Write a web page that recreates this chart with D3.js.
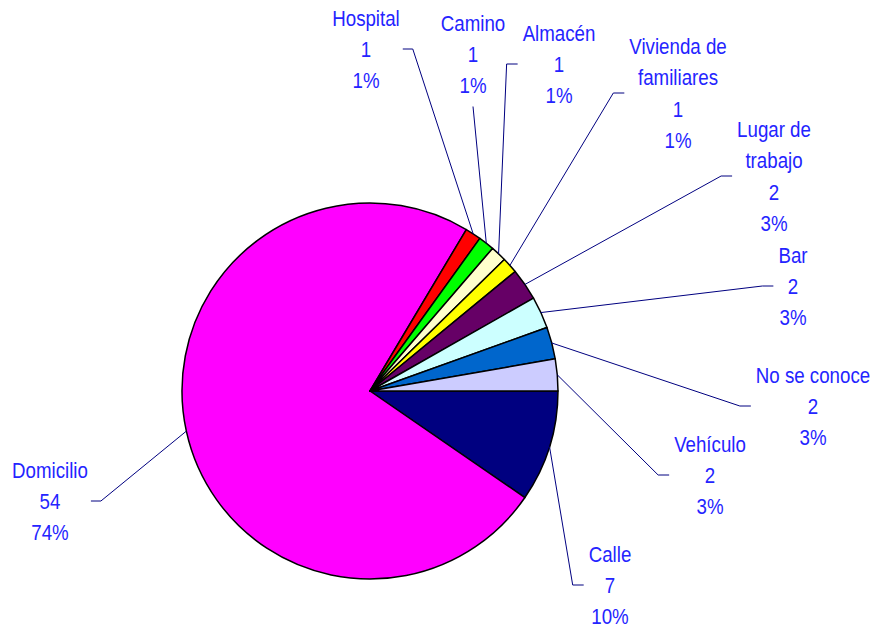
<!DOCTYPE html>
<html>
<head>
<meta charset="utf-8">
<script src="https://cdn.jsdelivr.net/npm/d3@7"></script>
<style>
  body { margin: 0; background: #fff; }
  svg { display: block; }
</style>
</head>
<body>
<div id="chart"></div>
<script>
// data
var categories = ["Calle", "Domicilio", "Hospital", "Camino", "Almacén", "Vivienda de\nfamiliares",
                  "Lugar de\ntrabajo", "Bar", "No se conoce", "Vehículo"];
var values = [7, 54, 1, 1, 1, 1, 2, 2, 2, 2];
var colors = ["#000080", "#ff00ff", "#ff0000", "#00ff00", "#ffffcc", "#ffff00",
              "#660066", "#ccffff", "#0066cc", "#ccccff"];

// label block centres, offset from the pie centre (hand placed, as in the original)
var labelOffsets = [[240, 194], [-320, 110], [-4, -342], [103, -337], [189, -327],
                    [308, -298], [404, -215], [423, -105], [443, 15], [340, 84]];

var width = 876, height = 627;
var cx = 370, cy = 391, radius = 188;
var lineH = 31.5, fontSize = 22, squeeze = 0.85;

var total = d3.sum(values);

var pie = d3.pie()
    .value(d => d.value)
    .sort(null)
    .startAngle(Math.PI / 2)
    .endAngle(Math.PI / 2 + 2 * Math.PI);

var arc = d3.arc().innerRadius(0).outerRadius(radius);
var outerArc = d3.arc().innerRadius(radius).outerRadius(radius);

var rows = categories.map((c, i) => ({ name: c, value: values[i], color: colors[i], off: labelOffsets[i] }));
var slices = pie(rows);

var svg = d3.select("#chart")
    .append("svg")
        .attr("width", width)
        .attr("height", height);

var g = svg.append("g")
    .attr("transform", `translate(${cx}, ${cy})`);

// slices
g.selectAll("path.slice")
    .data(slices)
    .enter()
    .append("path")
        .attr("class", "slice")
        .attr("d", arc)
        .attr("fill", d => d.data.color)
        .attr("stroke", "#000")
        .attr("stroke-width", 1.5)
        .attr("stroke-linejoin", "round");

// labels
var labels = g.selectAll("g.label")
    .data(slices)
    .enter()
    .append("g")
        .attr("class", "label");

labels.each(function(d) {
    var lines = d.data.name.split("\n");
    lines.push(String(d.data.value));
    lines.push(Math.round(d.data.value / total * 100) + "%");
    var n = lines.length;
    var lx = d.data.off[0], ly = d.data.off[1];
    var firstBase = ly - ((n - 1) * lineH - 16) / 2;

    var t = d3.select(this).append("text")
        .attr("transform", `translate(${lx}, ${firstBase}) scale(${squeeze}, 1)`)
        .attr("text-anchor", "middle")
        .style("font-family", "'Liberation Sans', Arial, sans-serif")
        .style("font-size", fontSize + "px")
        .style("fill", "#2424ff");

    t.selectAll("tspan")
        .data(lines)
        .enter()
        .append("tspan")
            .attr("x", 0)
            .attr("y", (s, i) => i * lineH)
            .text(s => s);

    d.box = { w: this.getBBox().width, lx: lx, ly: ly, bottom: firstBase + (n - 1) * lineH };
});

// leader lines
g.selectAll("polyline.leader")
    .data(slices)
    .enter()
    .insert("polyline", "g.label")
        .attr("class", "leader")
        .attr("fill", "none")
        .attr("stroke", "#000080")
        .attr("stroke-width", 1)
        .attr("points", function(d) {
            var p0 = outerArc.centroid(d);
            var b = d.box;
            var left = b.lx - b.w / 2, right = b.lx + b.w / 2;
            if (left > p0[0]) {
                return [p0, [left - 16, b.ly], [left - 5, b.ly]];
            } else if (right < p0[0]) {
                return [p0, [right + 13, b.ly], [right + 3, b.ly]];
            }
            return [p0, [b.lx, b.bottom + 13]];
        });
</script>
</body>
</html>
